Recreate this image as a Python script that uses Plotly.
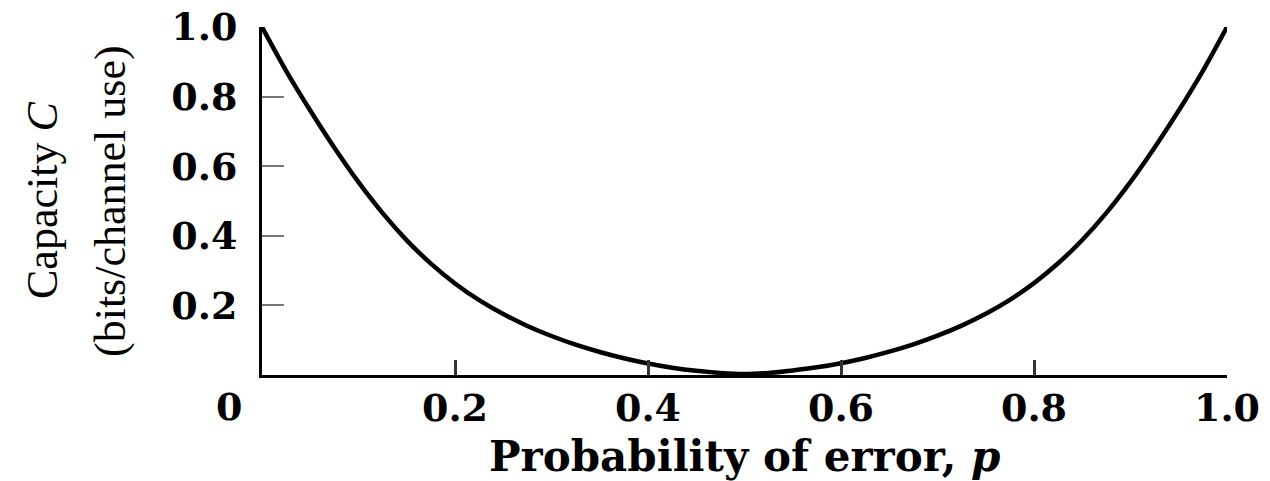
import plotly.graph_objects as go

# Values
p_values = [0.000, 0.025, 0.050, 0.075, 0.100, 0.125, 0.150, 0.175, 0.200, 0.225,
            0.250, 0.275, 0.300, 0.325, 0.350, 0.375, 0.400, 0.425, 0.450, 0.475,
            0.500, 0.525, 0.550, 0.575, 0.600, 0.625, 0.650, 0.675, 0.700, 0.725,
            0.750, 0.775, 0.800, 0.825, 0.850, 0.875, 0.900, 0.925, 0.950, 0.975,
            1.000]
capacity = [1.000, 0.874, 0.760, 0.653, 0.554, 0.465, 0.387, 0.320, 0.263, 0.215,
            0.175, 0.141, 0.112, 0.087, 0.066, 0.048, 0.033, 0.021, 0.012, 0.006,
            0.003, 0.006, 0.013, 0.022, 0.034, 0.049, 0.067, 0.088, 0.113, 0.142,
            0.176, 0.216, 0.264, 0.321, 0.388, 0.466, 0.555, 0.654, 0.760, 0.874,
            1.000]

x_ticks = [0.2, 0.4, 0.6, 0.8, 1.0]
x_tick_labels = ["0.2", "0.4", "0.6", "0.8", "1.0"]
y_ticks = [0.2, 0.4, 0.6, 0.8, 1.0]
y_tick_labels = ["0.2", "0.4", "0.6", "0.8", "1.0"]

x_title = "Probability of error, <i>p</i>"
y_title_1 = "Capacity <i>C</i>"
y_title_2 = "(bits/channel use)"

W, H = 1270, 481
L, R, T, B = 262, 43, 27, 106
pw = W - L - R
ph = H - T - B

tick_font = dict(family="DejaVu Serif", size=38, color="black", weight="bold")

fig = go.Figure()
fig.add_trace(go.Scatter(
    x=p_values, y=capacity, mode="lines",
    line=dict(color="black", width=4.5, shape="spline", smoothing=0.8),
    cliponaxis=False, showlegend=False, hoverinfo="skip",
))

fig.update_layout(
    width=W, height=H,
    margin=dict(l=L, r=R, t=T, b=B, autoexpand=False),
    paper_bgcolor="white", plot_bgcolor="white",
    showlegend=False,
)
fig.update_xaxes(
    range=[0, 1], showgrid=False, zeroline=False,
    showline=True, linecolor="black", linewidth=3,
    ticks="inside", ticklen=15, tickwidth=2.5, tickcolor="#333",
    tickvals=x_ticks, ticktext=x_tick_labels, tickfont=tick_font,
    ticklabelstandoff=-3, automargin=False,
)
fig.update_yaxes(
    range=[0, 1], showgrid=False, zeroline=False,
    showline=True, linecolor="black", linewidth=3,
    ticks="inside", ticklen=22, tickwidth=1.5, tickcolor="#777",
    tickvals=y_ticks, ticktext=y_tick_labels, tickfont=tick_font,
    ticklabelstandoff=14, automargin=False,
)

# "0" label at the origin, set below-left
fig.add_annotation(
    x=0, y=(375 - 407) / ph, xref="x", yref="paper",
    text="0", showarrow=False, xanchor="center", yanchor="middle",
    xshift=-33, font=tick_font,
)
# x-axis title
fig.add_annotation(
    x=0.5, y=(375 - 456) / ph, xref="paper", yref="paper",
    text=x_title, showarrow=False, xanchor="center", yanchor="middle",
    font=dict(family="DejaVu Serif", size=42, color="black", weight="bold"),
)
# y-axis title, two rotated lines
for txt, cx in [(y_title_1, 42), (y_title_2, 110)]:
    fig.add_annotation(
        x=(cx - L) / pw, y=0.5, xref="paper", yref="paper",
        text=txt, showarrow=False, textangle=-90,
        xanchor="center", yanchor="middle",
        font=dict(family="Liberation Serif", size=44, color="black"),
    )

fig.write_html("out.html")
